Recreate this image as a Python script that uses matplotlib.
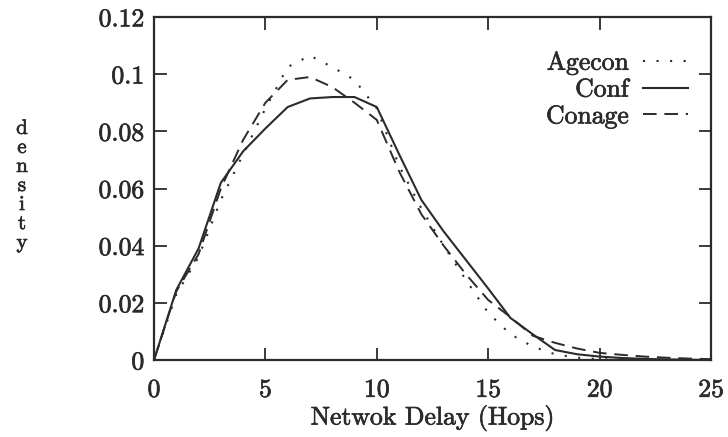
import matplotlib
matplotlib.use("Agg")
import matplotlib.pyplot as plt
import matplotlib.patheffects as pe

hops = list(range(0, 26))
agecon = [0, 0.023, 0.036, 0.056, 0.072, 0.088, 0.1025, 0.1065, 0.1025, 0.098, 0.088,
          0.068, 0.053, 0.040, 0.028, 0.0165, 0.009, 0.0047, 0.002, 0.0008, 0.0003,
          0.0001, 0, 0, 0, 0]
conf = [0, 0.0245, 0.039, 0.062, 0.073, 0.081, 0.0885, 0.0915, 0.092, 0.092, 0.0885,
        0.072, 0.056, 0.045, 0.035, 0.025, 0.0147, 0.009, 0.0035, 0.002, 0.0012,
        0.0007, 0.0004, 0.0002, 0.0001, 0]
conage = [0, 0.024, 0.037, 0.060, 0.077, 0.090, 0.098, 0.099, 0.0955, 0.090, 0.084,
          0.066, 0.051, 0.040, 0.030, 0.021, 0.015, 0.0085, 0.006, 0.004, 0.0025,
          0.0018, 0.0012, 0.0008, 0.0005, 0.0003]
xticks = [0, 5, 10, 15, 20, 25]
yticks = [0, 0.02, 0.04, 0.06, 0.08, 0.1, 0.12]
ytick_labels = ["0", "0.02", "0.04", "0.06", "0.08", "0.1", "0.12"]

plt.rcParams['font.family'] = ['cmr10', 'DejaVu Serif']
plt.rcParams['axes.formatter.use_mathtext'] = True

ink = "#2b2b2b"
fs = 18.5
bold = [pe.withStroke(linewidth=0.5, foreground=ink)]

fig = plt.figure(figsize=(7.28, 4.37), dpi=100)
ax = fig.add_axes([154/728, 77/437, (711-154)/728, (360-17)/437])

ax.plot(hops, agecon, color=ink, lw=1.5, linestyle=(0, (1, 5.5)), label="Agecon")
ax.plot(hops, conf, color=ink, lw=1.5, linestyle="-", label="Conf")
ax.plot(hops, conage, color=ink, lw=1.4, linestyle=(0, (7, 4)), label="Conage")

ax.set_xlim(0, 25)
ax.set_ylim(0, 0.12)
ax.set_xticks(xticks)
ax.set_xticklabels([str(v) for v in xticks])
ax.set_yticks(yticks)
ax.set_yticklabels(ytick_labels)
ax.tick_params(direction="in", length=9, width=1.3, colors=ink, labelsize=fs,
               top=True, right=True)
ax.tick_params(axis="x", pad=13)
ax.tick_params(axis="y", pad=7)
for s in ax.spines.values():
    s.set_linewidth(1.6)
    s.set_color(ink)
for t in ax.get_xticklabels() + ax.get_yticklabels():
    t.set_path_effects(bold)

ax.set_xlabel("Netwok Delay (Hops)", fontsize=fs, color=ink, labelpad=2,
              path_effects=bold)
fig.text(22/728, 1 - 186/437, "d\ne\nn\ns\ni\nt\ny", ha="center", va="center",
         fontsize=15, linespacing=1.08, color=ink, path_effects=bold)

leg = ax.legend(loc="upper right", bbox_to_anchor=(688/728, 1 - 51/437),
                bbox_transform=fig.transFigure, frameon=False, markerfirst=False,
                fontsize=fs, handlelength=1.75, handletextpad=0.55, labelspacing=0.12,
                borderpad=0, borderaxespad=0)
for t in leg.get_texts():
    t.set_color(ink)
    t.set_path_effects(bold)

fig.savefig("out.png", dpi=100)
